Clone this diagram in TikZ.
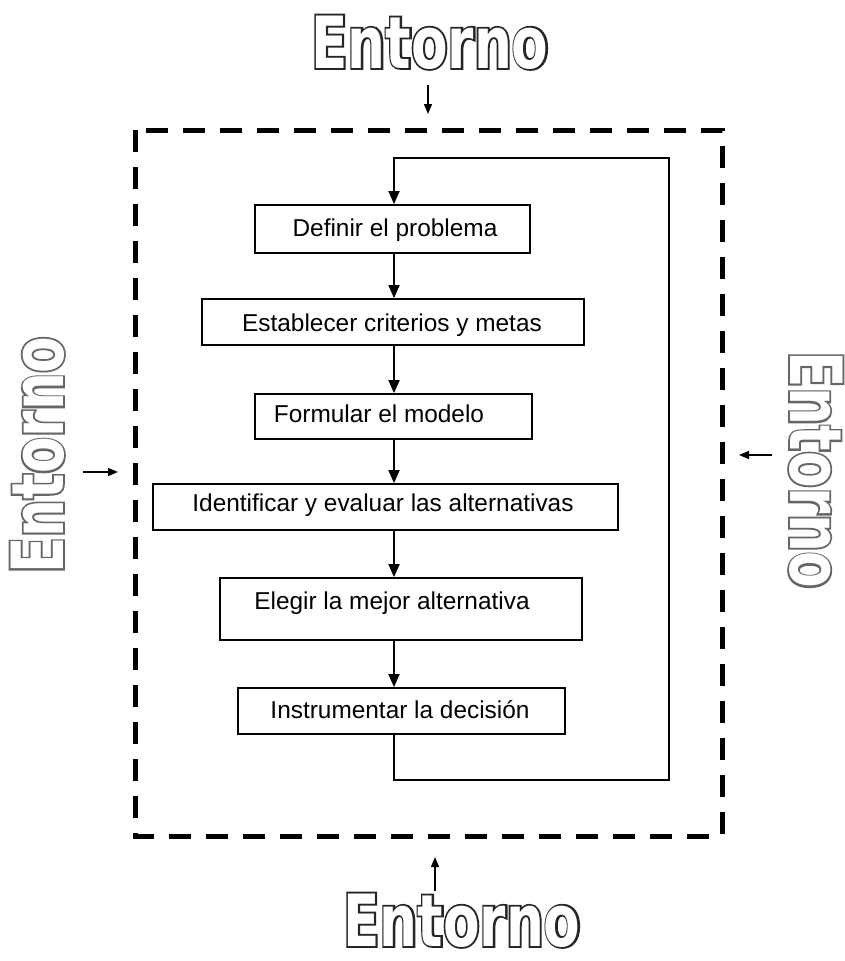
\documentclass[tikz,border=0pt]{standalone}
\usepackage{fontspec}
\usetikzlibrary{arrows.meta}
\setmainfont{Liberation Sans}
% outline lettering: a stroked (emboldened) layer under a white fill layer
\newfontfamily\entback{DejaVu Sans Bold}[FakeStretch=0.74,FakeBold=5]
\newfontfamily\entfront{DejaVu Sans Bold}[FakeStretch=0.74]
\newcommand{\hollow}[2]{\ooalign{\hfil\entback\textcolor{#1}{#2}\hfil\cr\hfil\entfront\textcolor{white}{#2}\hfil\cr}}

\begin{document}
\begin{tikzpicture}[x=1pt,y=-1pt,
  stepbox/.style={draw,line width=1.8pt,inner sep=0pt},
  txt/.style={font=\fontsize{24.4}{28}\selectfont,inner sep=0pt},
  flow/.style={line width=1.8pt,-{Triangle[length=13pt,width=11pt]}},
  envarrow/.style={line width=1.4pt,-{Triangle[length=10pt,width=8pt]}},
  envtext/.style={font=\fontsize{72}{80}\selectfont,inner sep=0pt,anchor=base},
  border/.style={line width=5pt,dash pattern=on 22pt off 15pt}
]
\useasboundingbox (0,0) rectangle (845,961);

% environment frame
\draw[border] (135,130) rectangle (722,836);

% process steps
\node[stepbox,minimum width=275pt,minimum height=48pt] (b1) at (392.5,229)
  {}; \node[txt] (t1) at (395,230) {Definir el problema};
\node[stepbox,minimum width=382pt,minimum height=46pt] (b2) at (393,322)
  {}; \node[txt] (t2) at (392,325) {Establecer criterios y metas};
\node[stepbox,minimum width=277pt,minimum height=45pt] (b3) at (393.5,416.5)
  {}; \node[txt] (t3) at (379,414) {Formular el modelo};
\node[stepbox,minimum width=465pt,minimum height=46pt] (b4) at (385.5,507)
  {}; \node[txt] (t4) at (383,505) {Identificar y evaluar las alternativas};
\node[stepbox,minimum width=362pt,minimum height=62pt] (b5) at (401,609)
  {}; \node[txt] (t5) at (392,603) {Elegir la mejor alternativa};
\node[stepbox,minimum width=327pt,minimum height=46pt] (b6) at (401.5,711)
  {}; \node[txt] (t6) at (400,710) {Instrumentar la decisión};

% main axis of the flow
\coordinate (ax) at (394,0);
\coordinate (loopbr) at (669,780);
\coordinate (looptr) at (669,158);

\draw[flow] (b1.south -| ax) -- (b2.north -| ax);
\draw[flow] (b2.south -| ax) -- (b3.north -| ax);
\draw[flow] (b3.south -| ax) -- (b4.north -| ax);
\draw[flow] (b4.south -| ax) -- (b5.north -| ax);
\draw[flow] (b5.south -| ax) -- (b6.north -| ax);
% feedback loop
\draw[flow] (b6.south -| ax) |- (loopbr) -- (looptr) -| (b1.north -| ax);

% environment labels
\node[envtext] (et) at (430,68) {\hollow{black!85}{Entorno}};
\node[envtext] (eb) at (462,946) {\hollow{black!85}{Entorno}};
\node[envtext,rotate=90] (el) at (63,455) {\hollow{black!60}{Entorno}};
\node[envtext,rotate=-90] (er) at (790,470) {\hollow{black!60}{Entorno}};

% environment influence arrows
\coordinate (at1) at (428,85);  \coordinate (at2) at (428,114);
\coordinate (ab1) at (435,891); \coordinate (ab2) at (435,857);
\coordinate (al1) at (83,472);  \coordinate (al2) at (118,472);
\coordinate (ar1) at (772,455); \coordinate (ar2) at (739,455);
\draw[envarrow] (at1) -- (at2);
\draw[envarrow] (ab1) -- (ab2);
\draw[envarrow] (al1) -- (al2);
\draw[envarrow] (ar1) -- (ar2);
\end{tikzpicture}
\end{document}
